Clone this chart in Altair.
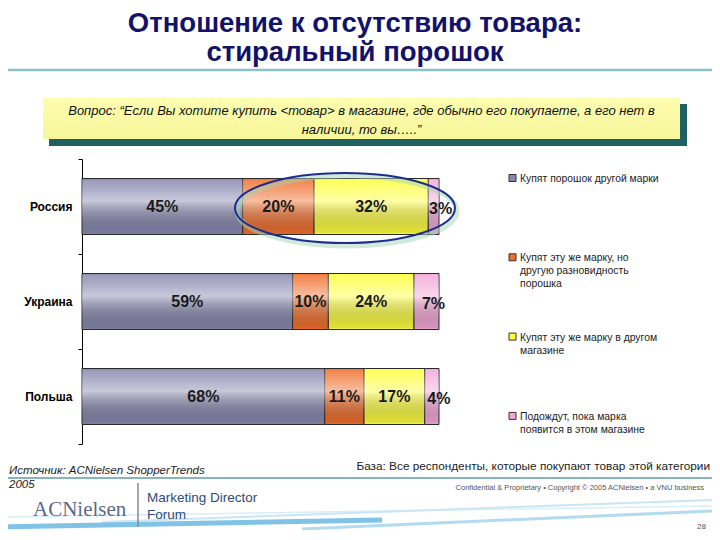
import altair as alt
import pandas as pd

countries = ["Россия", "Украина", "Польша"]
series = ["Купят порошок другой марки",
          "Купят эту же марку, но другую разновидность порошка",
          "Купят эту же марку в другом магазине",
          "Подождут, пока марка появится в этом магазине"]
legend_labels = ["Купят порошок другой марки",
                 "Купят эту же марку, но\nдругую разновидность\nпорошка",
                 "Купят эту же марку в другом\nмагазине",
                 "Подождут, пока марка\nпоявится в этом магазине"]
other_brand = [45, 59, 68]
same_brand_other_kind = [20, 10, 11]
same_brand_other_store = [32, 24, 17]
wait_for_brand = [3, 7, 4]
colors = ["#8686ae", "#f06e2c", "#ffff3c", "#f4a6d6"]

title_text = "Отношение к отсутствию товара:\nстиральный порошок"
question_text = ("Вопрос: “Если Вы хотите купить <товар> в магазине, где обычно его покупаете, а его нет в\n"
                 "наличии, то вы…..”")
source_text = "Источник: ACNielsen ShopperTrends\n2005"
base_text = "База: Все респонденты, которые покупают товар этой категории"
conf_text = "Confidential & Proprietary • Copyright © 2005 ACNielsen • a VNU business"
logo_text = "ACNielsen"
forum_text = "Marketing Director\nForum"
page_no = "28"

FONT = "Liberation Sans"

rows = []
for si, (s, vals) in enumerate(zip(series, [other_brand, same_brand_other_kind,
                                            same_brand_other_store, wait_for_brand])):
    for c, v in zip(countries, vals):
        rows.append({"country": c, "series": s, "s_idx": si, "value": v, "label": f"{v}%"})
df = pd.DataFrame(rows)
legend_df = pd.DataFrame({"series": series, "s_idx": list(range(4)), "label": legend_labels})

xscale = alt.Scale(domain=[0, 100], range=[0, 357])
yscale = alt.Scale(domain=countries, range=[151, 436], paddingInner=0, paddingOuter=0)
cscale = alt.Scale(domain=series, range=colors)


def one():
    return alt.Chart(pd.DataFrame({"k": [0]}))


def txt(s, x, y, **kw):
    return alt.Chart(pd.DataFrame({"t": [s]})).mark_text(lineBreak="\n", **kw).encode(
        text="t:N", x=alt.value(x), y=alt.value(y))


def rect(x1, x2, y1, y2, **kw):
    return one().mark_rect(**kw).encode(x=alt.value(x1), x2=alt.value(x2),
                                         y=alt.value(y1), y2=alt.value(y2))


def rule(x1, y1, x2, y2, **kw):
    return one().mark_rule(**kw).encode(x=alt.value(x1), x2=alt.value(x2),
                                         y=alt.value(y1), y2=alt.value(y2))


# header
title = txt(title_text, 273, 24, font=FONT, fontSize=27.5, fontWeight="bold",
            color="#12126a", align="center", baseline="alphabetic", lineHeight=28.5)
title_rule = rule(-82, 62, 630, 62, color="#8cc0c8", strokeWidth=2.5)
box_shadow = rect(-33, 605, 96, 138, color="#1f6060")
box = rect(-39, 598, 90, 131, fill={"gradient": "linear", "x1": 0, "y1": 0, "x2": 0, "y2": 1,
                                    "stops": [{"offset": 0, "color": "#fdfdb0"},
                                              {"offset": 1, "color": "#f6f69a"}]})
question = txt(question_text, 279.5, 107, font=FONT, fontSize=13, fontStyle="italic",
               color="#111111", align="center", baseline="alphabetic", lineHeight=19)

# bars
bars = alt.Chart(df).mark_bar(size=56, stroke="#2a2a2a", strokeWidth=1).encode(
    x=alt.X("value:Q", stack="zero", scale=xscale, axis=None),
    y=alt.Y("country:N", scale=yscale, sort=countries, title=None,
            axis=alt.Axis(domain=True, domainColor="#000000", ticks=True, tickColor="#000000",
                          tickSize=4, tickBand="extent", labelPadding=6, labelFont=FONT,
                          labelFontSize=12, labelFontWeight="bold", labelColor="#000000",
                          grid=False)),
    color=alt.Color("series:N", scale=cscale, legend=None),
    order=alt.Order("s_idx:Q"),
)
shine = alt.Chart(df).mark_bar(size=54, strokeWidth=0, fill={
    "gradient": "linear", "x1": 0, "y1": 0, "x2": 0, "y2": 1,
    "stops": [{"offset": 0, "color": "rgba(255,255,255,0.15)"},
              {"offset": 0.4, "color": "rgba(255,255,255,0.55)"},
              {"offset": 1, "color": "rgba(0,0,0,0.10)"}]}).encode(
    x=alt.X("value:Q", stack="zero", scale=xscale, axis=None),
    y=alt.Y("country:N", scale=yscale, sort=countries, axis=None),
    order=alt.Order("s_idx:Q"),
)

label_base = alt.Chart(df).transform_stack(
    stack="value", as_=["v0", "v1"], groupby=["country"], sort=[alt.SortField("s_idx")]
).transform_calculate(mid="(datum.v0 + datum.v1) / 2")
labels_main = label_base.transform_filter("datum.s_idx < 3").mark_text(
    font=FONT, fontSize=16, fontWeight="bold", color="#1a1a1a", baseline="middle").encode(
    x=alt.X("mid:Q", scale=xscale, axis=None),
    y=alt.Y("country:N", scale=yscale, sort=countries, axis=None),
    text="label:N")
labels_last = label_base.transform_filter("datum.s_idx == 3").mark_text(
    font=FONT, fontSize=16, fontWeight="bold", color="#1a1a1a", baseline="middle",
    dx=7, dy=2).encode(
    x=alt.X("mid:Q", scale=xscale, axis=None),
    y=alt.Y("country:N", scale=yscale, sort=countries, axis=None),
    text="label:N")

# ellipse highlight
ell_path = "M -1 0 A 1 0.318 0 1 1 1 0 A 1 0.318 0 1 1 -1 0 Z"
ell_glow = one().mark_point(shape=ell_path, size=48400, filled=False, color="#a8d4b8",
                            strokeWidth=5, opacity=0.5).encode(x=alt.value(265), y=alt.value(203))
ell = one().mark_point(shape=ell_path, size=48400, filled=False, color="#1c2f8f",
                       strokeWidth=2, opacity=1).encode(x=alt.value(263), y=alt.value(200))

# legend
leg_base = alt.Chart(legend_df).transform_calculate(ly="170 + datum.s_idx * 79.3",
                                                    ty="174 + datum.s_idx * 79.3")
leg_sq = leg_base.mark_square(size=49, stroke="#333333", strokeWidth=1, opacity=1).encode(
    x=alt.value(430.5), y=alt.Y("ly:Q", scale=None, axis=None),
    color=alt.Color("series:N", scale=cscale, legend=None))
leg_txt = leg_base.mark_text(lineBreak="\n", font=FONT, fontSize=10.4, color="#222222",
                             align="left", baseline="alphabetic", lineHeight=13).encode(
    x=alt.value(438), y=alt.Y("ty:Q", scale=None, axis=None), text="label:N")

# footer
source = txt(source_text, -73, 466, font=FONT, fontSize=11.5, fontStyle="italic", color="#222222",
             align="left", baseline="alphabetic", lineHeight=14)
base = txt(base_text, 628, 462, font=FONT, fontSize=11.8, color="#222222", align="right",
           baseline="alphabetic")
foot_rule = rule(-82, 470, 630, 470, color="#5e9ea6", strokeWidth=1.5)
conf = txt(conf_text, 622, 482, font=FONT, fontSize=7.5, color="#555555", align="right",
           baseline="alphabetic")
sep = rule(56, 475, 56, 519, color="#8a8a8a", strokeWidth=1.5)
logo = txt(logo_text, -49, 508, font="Liberation Serif", fontSize=21, color="#5a6a8a",
           align="left", baseline="alphabetic")
forum = txt(forum_text, 65, 494, font=FONT, fontSize=13.5, color="#2c4a80", align="left",
            baseline="alphabetic", lineHeight=17)
page = txt(page_no, 624, 521, font=FONT, fontSize=8, color="#555555", align="right",
           baseline="alphabetic")
sw1 = rule(-82, 519, 300, 512, color="#62b4e0", strokeWidth=5, opacity=0.8)
sw2 = rule(20, 514, 630, 492, color="#c8e6f4", strokeWidth=2)
sw3 = rule(220, 521, 630, 503, color="#a0d2ec", strokeWidth=3, opacity=0.8)
sw4 = rule(-82, 509, 630, 498, color="#d8eef8", strokeWidth=1.5)

chart = alt.layer(
    box_shadow, box, question, title, title_rule,
    bars, shine, labels_main, labels_last, ell_glow, ell,
    leg_sq, leg_txt,
    sw4, sw2, sw3, sw1, foot_rule, source, base, conf, sep, logo, forum, page,
).properties(
    width=630, height=522,
    autosize=alt.AutoSizeParams(type="none"),
    padding={"left": 74, "top": 0, "right": 0, "bottom": 0},
).resolve_scale(y="independent").configure_view(stroke=None)

chart.save("out.html", embed_options={"renderer": "svg", "actions": False})
